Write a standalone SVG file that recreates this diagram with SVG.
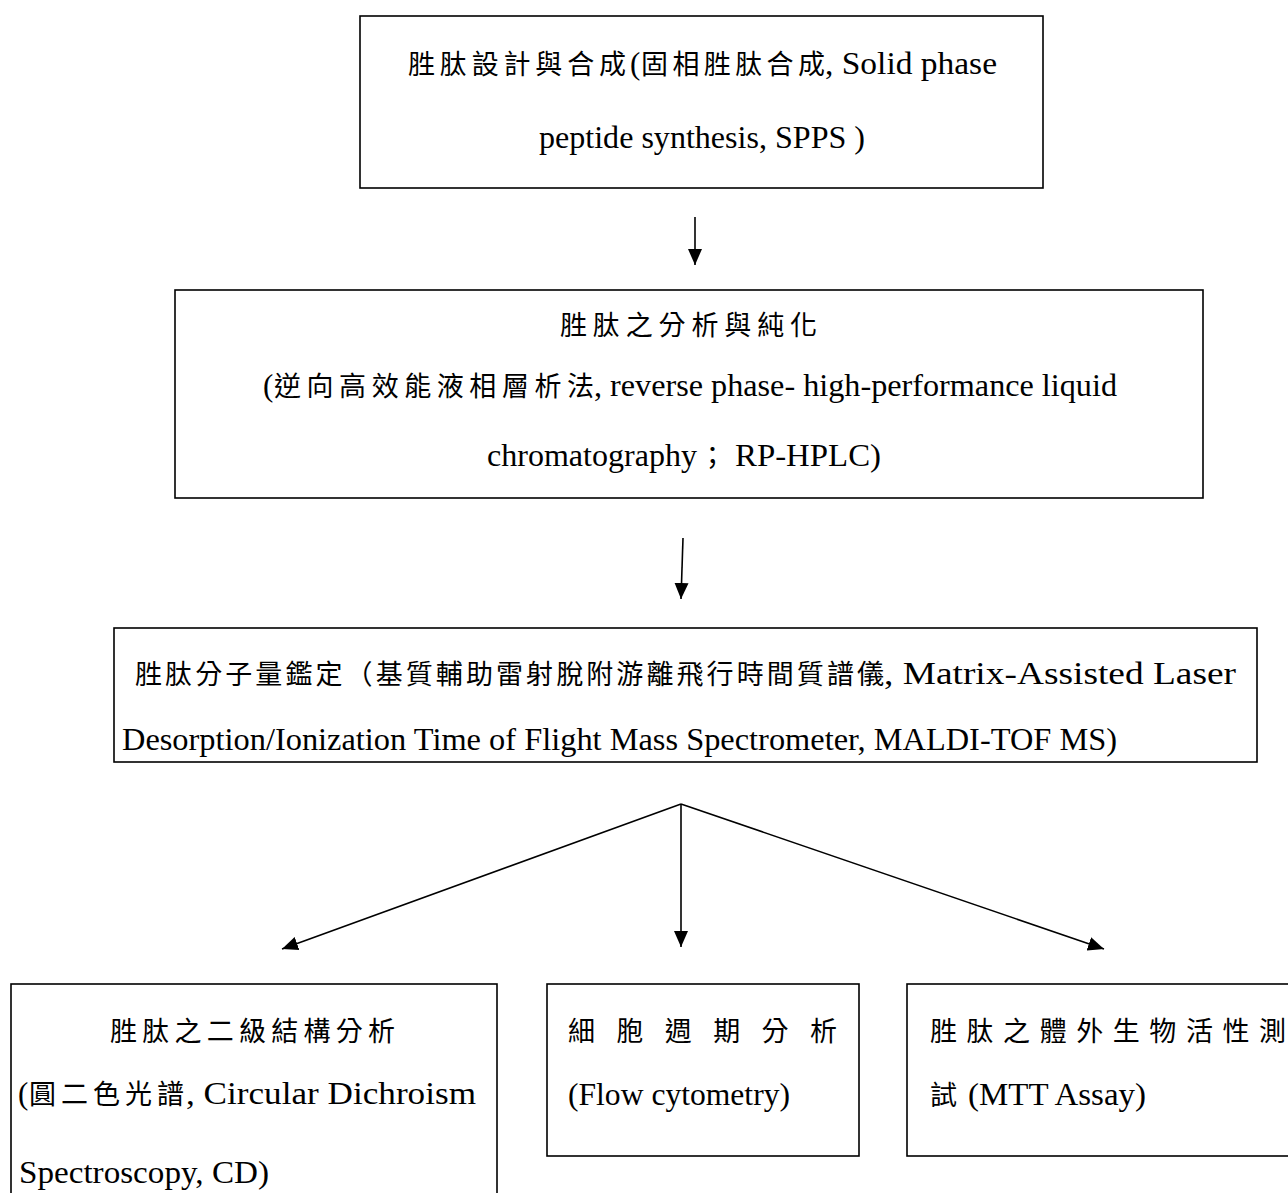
<svg xmlns="http://www.w3.org/2000/svg" width="1288" height="1193" viewBox="0 0 1288 1193">
<style>
.box{fill:#fff;stroke:#000;stroke-width:1.6}
.lat{font-family:"Liberation Serif","Noto Sans CJK TC",serif;font-size:31px;fill:#000}
.cjk{font-family:"Noto Sans CJK TC","Liberation Serif",serif;font-size:27px;fill:#000}
.con{stroke:#000;stroke-width:1.6;fill:none}
</style>
<defs>
<marker id="ah" markerUnits="userSpaceOnUse" markerWidth="16" markerHeight="16" refX="16" refY="8" orient="auto">
<path d="M0,1 L16,8 L0,15 z" fill="#000"/>
</marker>
</defs>
<rect width="1288" height="1193" fill="#fff"/>
<g id="connectors">
<line class="con" x1="695" y1="217" x2="695" y2="265" marker-end="url(#ah)"/>
<line class="con" x1="683" y1="538" x2="681" y2="599" marker-end="url(#ah)"/>
<line class="con" x1="681" y1="804" x2="282" y2="949" marker-end="url(#ah)"/>
<line class="con" x1="681" y1="804" x2="681" y2="947" marker-end="url(#ah)"/>
<line class="con" x1="681" y1="804" x2="1104" y2="949" marker-end="url(#ah)"/>
</g>
<g id="node-synthesis">
<rect class="box" x="360" y="16" width="683" height="172"/>
<text class="cjk" x="408" y="74" textLength="218" lengthAdjust="spacing">胜肽設計與合成</text>
<text class="lat" x="630" y="74">(</text>
<text class="cjk" x="641" y="74" textLength="184" lengthAdjust="spacing">固相胜肽合成</text>
<text class="lat" x="825" y="74" textLength="172" lengthAdjust="spacingAndGlyphs">, Solid phase</text>
<text class="lat" x="539" y="148" textLength="326" lengthAdjust="spacingAndGlyphs">peptide synthesis, SPPS )</text>
</g>
<g id="node-purification">
<rect class="box" x="175" y="290" width="1028" height="208"/>
<text class="cjk" x="560" y="335" textLength="257" lengthAdjust="spacing">胜肽之分析與純化</text>
<text class="lat" x="263" y="396">(</text>
<text class="cjk" x="274" y="396" textLength="320" lengthAdjust="spacing">逆向高效能液相層析法</text>
<text class="lat" x="594" y="396" textLength="523" lengthAdjust="spacingAndGlyphs">, reverse phase- high-performance liquid</text>
<text class="lat" x="487" y="466" textLength="210" lengthAdjust="spacingAndGlyphs">chromatography</text>
<text class="cjk" x="699" y="466">；</text>
<text class="lat" x="735" y="466" textLength="146" lengthAdjust="spacingAndGlyphs">RP-HPLC)</text>
</g>
<g id="node-maldi">
<rect class="box" x="114" y="628" width="1143" height="134"/>
<text class="cjk" x="135" y="684" textLength="749" lengthAdjust="spacing">胜肽分子量鑑定（基質輔助雷射脫附游離飛行時間質譜儀</text>
<text class="lat" x="884" y="684" textLength="352" lengthAdjust="spacingAndGlyphs">, Matrix-Assisted Laser</text>
<text class="lat" x="122" y="750" textLength="995" lengthAdjust="spacingAndGlyphs">Desorption/Ionization Time of Flight Mass Spectrometer, MALDI-TOF MS)</text>
</g>
<g id="node-cd">
<rect class="box" x="11" y="984" width="486" height="230"/>
<text class="cjk" x="110" y="1041" textLength="285" lengthAdjust="spacing">胜肽之二級結構分析</text>
<text class="lat" x="18" y="1104">(</text>
<text class="cjk" x="29" y="1104" textLength="155" lengthAdjust="spacing">圓二色光譜</text>
<text class="lat" x="186" y="1104" textLength="290" lengthAdjust="spacingAndGlyphs">, Circular Dichroism</text>
<text class="lat" x="19" y="1183" textLength="250" lengthAdjust="spacingAndGlyphs">Spectroscopy, CD)</text>
</g>
<g id="node-cellcycle">
<rect class="box" x="547" y="984" width="312" height="172"/>
<text class="cjk" x="568" y="1041" textLength="269" lengthAdjust="spacing">細 胞 週 期 分 析</text>
<text class="lat" x="568" y="1105" textLength="222" lengthAdjust="spacingAndGlyphs">(Flow cytometry)</text>
</g>
<g id="node-mtt">
<rect class="box" x="907" y="984" width="400" height="172"/>
<text class="cjk" x="930" y="1041" textLength="356" lengthAdjust="spacing">胜肽之體外生物活性測</text>
<text class="cjk" x="930" y="1105">試</text>
<text class="lat" x="968" y="1105" textLength="178" lengthAdjust="spacingAndGlyphs">(MTT Assay)</text>
</g>
</svg>
